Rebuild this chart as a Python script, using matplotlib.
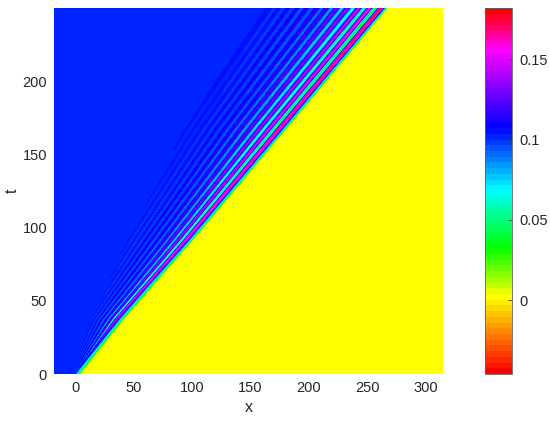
import numpy as np
from matplotlib import pyplot as plt
from matplotlib.colors import LinearSegmentedColormap
from matplotlib.tri import Triangulation, LinearTriInterpolator

plt.rcParams['font.family'] = ['Liberation Sans', 'DejaVu Sans']

#time levels where the wave pattern was read
t_levels = [0, 37, 91, 167, 250]

#crest positions, front crest first
crest_x = [
    [0, -1, -2, -3, -4, -5, -6, -7, -8, -9, -10, -11],
    [34.6, 30.3, 26.2, 22.4, 19, 15.8, 12.8, 10, 7.5, 5, 3, 1],
    [94, 87.7, 81.5, 75.5, 70, 64.5, 59.5, 54.5, 50, 45.5, 41, 37],
    [174, 165.5, 157, 149, 141, 134, 127, 120, 113.5, 107, 101, 95],
    [261.6, 252, 243, 233, 224, 215, 207, 198, 190, 182, 174, 167],
]
#crest values
crest_u = [
    [.102, .102, .102, .102, .102, .102, .102, .102, .102, .102, .102, .102],
    [.145, .122, .114, .11, .107, .105, .104, .103, .102, .102, .102, .102],
    [.157, .138, .125, .118, .113, .11, .108, .106, .105, .104, .103, .102],
    [.165, .15, .138, .125, .118, .112, .11, .108, .107, .106, .105, .104],
    [.172, .155, .145, .135, .128, .12, .115, .112, .11, .108, .107, .106],
]
#trough values, the trough behind each crest
trough_u = [
    [.102, .102, .102, .102, .102, .102, .102, .102, .102, .102, .102, .102],
    [.07, .085, .092, .096, .098, .1, .101, .102, .102, .102, .102, .102],
    [.06, .078, .087, .092, .095, .097, .098, .099, .1, .101, .102, .102],
    [.05, .065, .075, .085, .092, .096, .098, .099, .1, .101, .102, .102],
    [.045, .055, .067, .075, .085, .09, .093, .095, .097, .098, .099, .1],
]
#edge of the flat region ahead of the wave
front_x = [5, 42, 101, 181, 268]
front_u = 0.001
base_u = 0.102

x_min, x_max = -18, 315
t_max = 250
x_ticks = [0, 50, 100, 150, 200, 250, 300]
t_ticks = [0, 50, 100, 150, 200]
cbar_ticks = [0, 0.05, 0.1, 0.15]
cbar_labels = ['0', '0.05', '0.1', '0.15']

u_min, u_max = -0.046, 0.182
color_u = [-0.046, 0.001, 0.032, 0.0685, 0.108, 0.1575, 0.182]
color_names = ['#ff0000', '#ffff00', '#00ff00', '#00ffff', '#0000ff', '#ff00ff', '#ff0000']

#build the mesh, columns go left to right
#each crest and trough gets a small flat top so the stripes keep their width
flat = 0.2
X = []
U = []
for i in range(len(t_levels)):
    cx = crest_x[i]
    last_step = cx[-2] - cx[-1]
    #back to the plain level one wave behind the last crest
    row_x = [x_min, cx[-1] - last_step]
    row_u = [base_u, base_u]
    for k in range(len(cx) - 1, -1, -1):
        if k < len(cx) - 1:
            step = cx[k] - cx[k + 1]
            mid = (cx[k] + cx[k + 1]) / 2
            row_x += [mid - flat * step / 2, mid + flat * step / 2]
            row_u += [trough_u[i][k], trough_u[i][k]]
            w = flat * step / 2
        else:
            w = flat * last_step / 2
        row_x += [cx[k] - w, cx[k] + w]
        row_u += [crest_u[i][k], crest_u[i][k]]
    row_x += [front_x[i], x_max]
    row_u += [front_u, front_u]
    X.append(row_x)
    U.append(row_u)
X = np.array(X)
U = np.array(U)
T = np.array([[t] * X.shape[1] for t in t_levels])

#triangles follow the crest lines
nr, nc = X.shape
tris = []
for r in range(nr - 1):
    for c in range(nc - 1):
        a = r * nc + c
        b = a + 1
        d = a + nc
        e = d + 1
        tris.append([a, b, e])
        tris.append([a, e, d])
tri = Triangulation(X.ravel(), T.ravel(), tris)
interp = LinearTriInterpolator(tri, U.ravel())
xg, tg = np.meshgrid(np.linspace(x_min, x_max, 389), np.linspace(0, t_max, 366))
field = interp(xg, tg)

pos = [(c - u_min) / (u_max - u_min) for c in color_u]
cmap = LinearSegmentedColormap.from_list('wave', list(zip(pos, color_names)), N=64)

fig = plt.figure(figsize=(5.5, 4.22), dpi=100)
ax = fig.add_axes([54 / 550, 48 / 422, 389 / 550, 366 / 422])
pm = ax.pcolormesh(xg, tg, field, cmap=cmap, vmin=u_min, vmax=u_max, shading='nearest')
ax.set_xlim(x_min, x_max)
ax.set_ylim(0, t_max)
ax.set_xticks(x_ticks)
ax.set_yticks(t_ticks)
ax.tick_params(length=0, labelsize=10.5, labelcolor='#262626', pad=5)
for s in ax.spines.values():
    s.set_visible(False)
ax.set_xlabel('x', fontsize=11.5, color='#262626', labelpad=4)
ax.set_ylabel('t', fontsize=11.5, color='#262626', labelpad=2)

cax = fig.add_axes([485 / 550, 48 / 422, 27 / 550, 366 / 422])
cb = fig.colorbar(pm, cax=cax, ticks=cbar_ticks)
cb.set_ticklabels(cbar_labels)
cb.ax.tick_params(direction='in', length=3, width=0.6, color='#404040', labelsize=10.5, labelcolor='#262626', pad=5)
cb.outline.set_edgecolor('#606060')
cb.outline.set_linewidth(0.6)

fig.savefig('out.png', dpi=100)
